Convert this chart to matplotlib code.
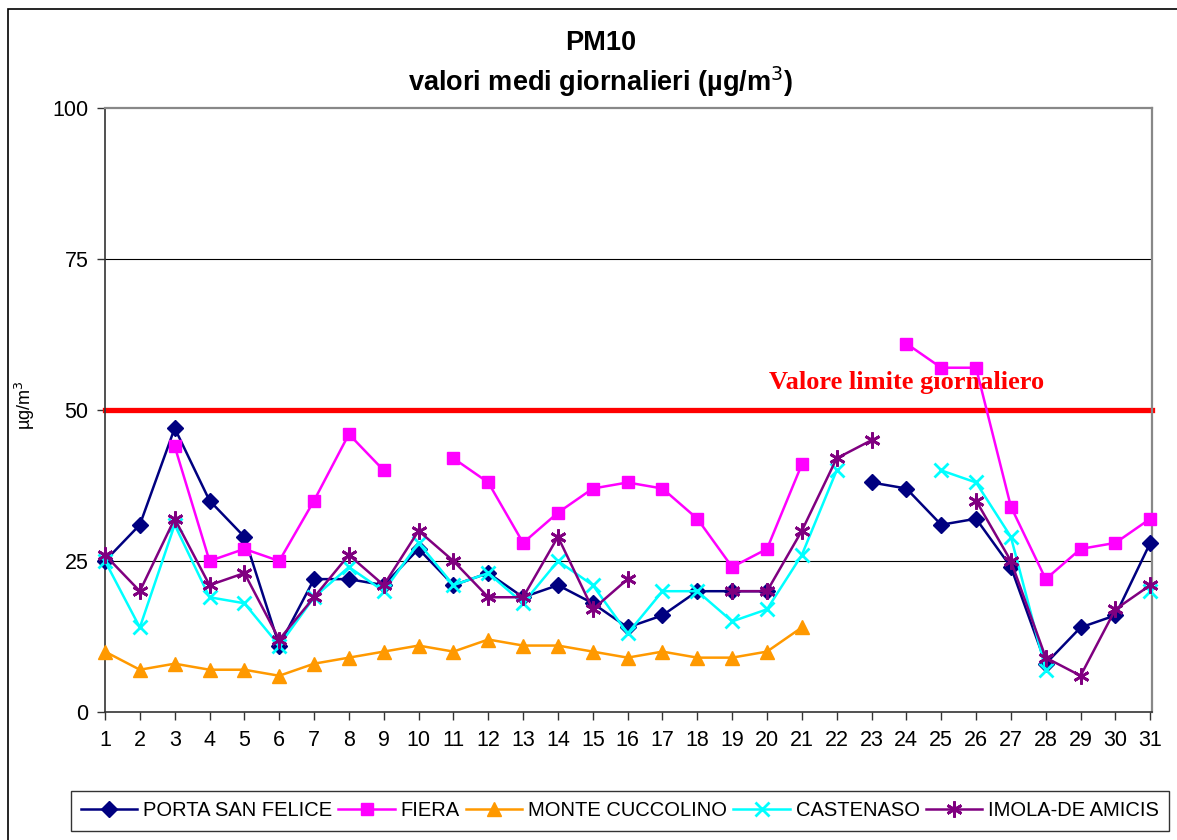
import numpy as np
import matplotlib
matplotlib.use("Agg")
import matplotlib.pyplot as plt
from matplotlib.patches import Rectangle

nan = np.nan

days = list(range(1, 32))

porta_san_felice = [25, 31, 47, 35, 29, 11, 22, 22, 21, 27, 21, 23, 19, 21, 18, 14,
                    16, 20, 20, 20, nan, nan, 38, 37, 31, 32, 24, 8, 14, 16, 28]
fiera = [nan, nan, 44, 25, 27, 25, 35, 46, 40, nan, 42, 38, 28, 33, 37, 38,
         37, 32, 24, 27, 41, nan, nan, 61, 57, 57, 34, 22, 27, 28, 32]
monte_cuccolino = [10, 7, 8, 7, 7, 6, 8, 9, 10, 11, 10, 12, 11, 11, 10, 9,
                   10, 9, 9, 10, 14, nan, nan, nan, nan, nan, nan, nan, nan, nan, nan]
castenaso = [25, 14, 31, 19, 18, 11, 19, 24, 20, 28, 21, 23, 18, 25, 21, 13,
             20, 20, 15, 17, 26, 40, nan, nan, 40, 38, 29, 7, nan, nan, 20]
imola = [26, 20, 32, 21, 23, 12, 19, 26, 21, 30, 25, 19, 19, 29, 17, 22,
         nan, nan, 20, 20, 30, 42, 45, nan, nan, 35, 25, 9, 6, 17, 21]

series = [
    ("PORTA SAN FELICE", porta_san_felice, "#000080", "D", 8.5),
    ("FIERA", fiera, "#FF00FF", "s", 8.5),
    ("MONTE CUCCOLINO", monte_cuccolino, "#FF9900", "^", 9.5),
    ("CASTENASO", castenaso, "#00FFFF", "x", 9.5),
    ("IMOLA-DE AMICIS", imola, "#800080", (6, 2, 0), 11.5),
]

limit_value = 50
y_ticks = [0, 25, 50, 75, 100]

plt.rcParams['font.family'] = ['Liberation Sans', 'DejaVu Sans']

fig = plt.figure(figsize=(11.77, 8.40), dpi=100)
ax = fig.add_axes([105 / 1177, 128 / 840, 1047 / 1177, 604 / 840])

# horizontal grid lines
for v in [25, 75]:
    ax.axhline(v, color="black", lw=0.8, zorder=1)

ax.axhline(limit_value, color="#FF0000", lw=3.8, zorder=2, clip_on=False)
ax.text(20.05, 54.6, "Valore limite giornaliero", color="#FF0000",
        fontsize=19, fontweight="bold", family="Liberation Serif",
        va="center", ha="left", zorder=3)

for name, values, color, marker, ms in series:
    mew = 2 if marker in ("x",) or isinstance(marker, tuple) else 1
    ax.plot(days, values, color=color, lw=1.8, marker=marker, ms=ms,
            mew=mew, label=name, zorder=4, clip_on=False)

ax.set_xlim(1, 31.05)
ax.set_ylim(0, 100)
ax.set_xticks(days)
ax.set_yticks(y_ticks)
ax.tick_params(axis="both", labelsize=15.5, direction="out", length=6, width=1,
               colors="#333333", labelcolor="black")
ax.tick_params(axis="x", pad=7)
ax.tick_params(axis="y", pad=6)

for side in ["left", "bottom"]:
    ax.spines[side].set_color("#333333")
    ax.spines[side].set_linewidth(1.2)
for side in ["top", "right"]:
    ax.spines[side].set_color("#888888")
    ax.spines[side].set_linewidth(1.6)

fig.text(0.51, 0.949, "PM10", ha="center", va="center", fontsize=19.5,
         fontweight="bold")
fig.text(0.51, 0.903, "valori medi giornalieri (µg/m$^3$)", ha="center",
         va="center", fontsize=19.5, fontweight="bold")

fig.text(0.021, 0.518, "µg/m$^3$", rotation=90, ha="center", va="center",
         fontsize=13)

leg = fig.legend(loc="center", bbox_to_anchor=(620 / 1177, 1 - 811 / 840),
                 ncol=5, fontsize=14.5, frameon=True, fancybox=False,
                 edgecolor="black", handlelength=2.8, columnspacing=0.3,
                 handletextpad=0.3, borderpad=0.5)
leg.get_frame().set_linewidth(1.0)

# outer chart border
fig.patches.append(Rectangle((8 / 1177, -0.05), 1.1, 1 - 9 / 840 + 0.05,
                             transform=fig.transFigure, fill=False,
                             edgecolor="black", lw=1.2))

fig.savefig("out.png", dpi=100)
